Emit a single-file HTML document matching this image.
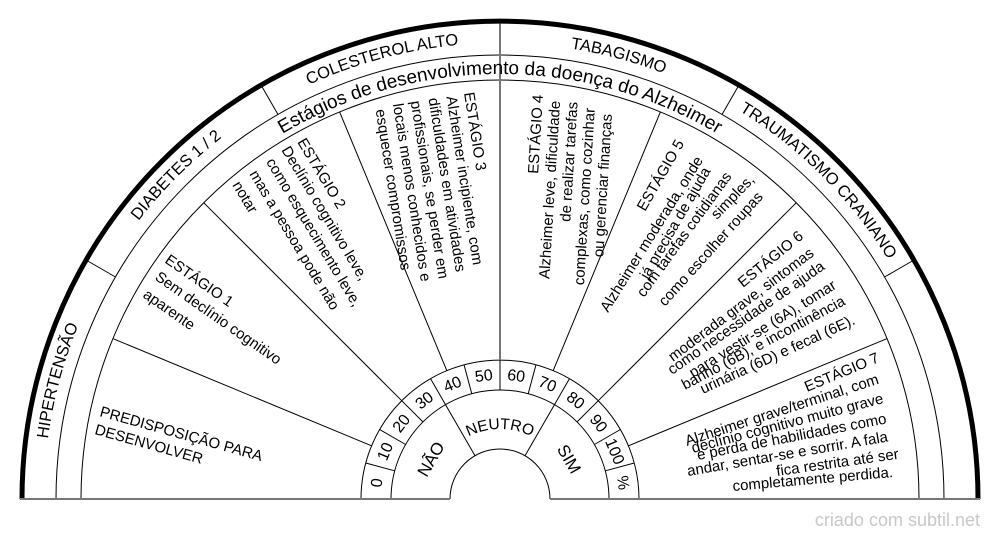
<!DOCTYPE html>
<html><head><meta charset="utf-8"><style>
html,body{margin:0;padding:0;background:#fff;}
svg{display:block;}
text{font-family:"Liberation Sans",Arial,sans-serif;fill:#000;}
</style></head><body>
<svg width="1000" height="540" viewBox="0 0 1000 540" xmlns="http://www.w3.org/2000/svg">
<defs>
<path id="a456" d="M44,499 A456,456 0 0 1 956,499"/>
<path id="a425" d="M75,499 A425,425 0 0 1 925,499"/>
<path id="a70" d="M430,499 A70,70 0 0 1 570,499"/>
</defs>
<g fill="none" stroke="#000" stroke-width="1">
<path d="M56,499 A444,444 0 0 1 944,499"/>
<path d="M81,499 A419,419 0 0 1 919,499"/>
<path d="M361,499 A139,139 0 0 1 639,499"/>
<path d="M391,499 A109,109 0 0 1 609,499"/>
<path d="M450,499 A50,50 0 0 1 550,499"/>
<line x1="115.5" y1="277" x2="86" y2="260"/>
<line x1="278" y1="114.5" x2="261" y2="85"/>
<line x1="722" y1="114.5" x2="739" y2="85"/>
<line x1="884.5" y1="277" x2="914" y2="260"/>
<line x1="371.6" y1="445.8" x2="112.9" y2="338.6"/>
<line x1="401.7" y1="400.7" x2="203.7" y2="202.7"/>
<line x1="446.8" y1="370.6" x2="339.6" y2="111.9"/>
<line x1="553.2" y1="370.6" x2="660.4" y2="111.9"/>
<line x1="598.3" y1="400.7" x2="796.3" y2="202.7"/>
<line x1="628.4" y1="445.8" x2="887.1" y2="338.6"/>
<line x1="394.7" y1="470.8" x2="365.7" y2="463"/>
<line x1="405.6" y1="444.5" x2="379.6" y2="429.5"/>
<line x1="422.9" y1="421.9" x2="401.7" y2="400.7"/>
<line x1="445.5" y1="404.6" x2="430.5" y2="378.6"/>
<line x1="471.8" y1="393.7" x2="464" y2="364.7"/>
<line x1="500" y1="390" x2="500" y2="360"/>
<line x1="528.2" y1="393.7" x2="536" y2="364.7"/>
<line x1="554.5" y1="404.6" x2="569.5" y2="378.6"/>
<line x1="577.1" y1="421.9" x2="598.3" y2="400.7"/>
<line x1="594.4" y1="444.5" x2="620.4" y2="429.5"/>
<line x1="605.3" y1="470.8" x2="634.3" y2="463"/>
<line x1="475" y1="455.7" x2="445.5" y2="404.6"/>
<line x1="525" y1="455.7" x2="554.5" y2="404.6"/>
</g>
<line x1="500" y1="360" x2="500" y2="21" stroke="#777" stroke-width="2"/>
<path d="M22,499 A478,478 0 0 1 978,499" fill="none" stroke="#000" stroke-width="5"/>
<line x1="20" y1="499" x2="450" y2="499" stroke="#777" stroke-width="2"/>
<line x1="550" y1="499" x2="980" y2="499" stroke="#777" stroke-width="2"/>

<g font-size="16.5">
<text><textPath href="#a456" startOffset="8.33%" text-anchor="middle">HIPERTENSÃO</textPath></text>
<text><textPath href="#a456" startOffset="25%" text-anchor="middle">DIABETES 1 / 2</textPath></text>
<text><textPath href="#a456" startOffset="41.67%" text-anchor="middle">COLESTEROL ALTO</textPath></text>
<text><textPath href="#a456" startOffset="58.33%" text-anchor="middle">TABAGISMO</textPath></text>
<text><textPath href="#a456" startOffset="75%" text-anchor="middle">TRAUMATISMO CRANIANO</textPath></text>
</g>
<text font-size="19"><textPath href="#a425" startOffset="50%" text-anchor="middle">Estágios de desenvolvimento da doença do Alzheimer</textPath></text>

<g font-size="16" text-anchor="middle">
<text x="500" y="380" transform="rotate(-82.5 500 499)">0</text>
<text x="500" y="380" transform="rotate(-67.5 500 499)">10</text>
<text x="500" y="380" transform="rotate(-52.5 500 499)">20</text>
<text x="500" y="380" transform="rotate(-37.5 500 499)">30</text>
<text x="500" y="380" transform="rotate(-22.5 500 499)">40</text>
<text x="500" y="380" transform="rotate(-7.5 500 499)">50</text>
<text x="500" y="380" transform="rotate(7.5 500 499)">60</text>
<text x="500" y="380" transform="rotate(22.5 500 499)">70</text>
<text x="500" y="380" transform="rotate(37.5 500 499)">80</text>
<text x="500" y="380" transform="rotate(52.5 500 499)">90</text>
<text x="500" y="380" transform="rotate(67.5 500 499)">100</text>
<text x="500" y="380" transform="rotate(82.5 500 499)">%</text>
</g>
<g font-size="17" text-anchor="middle">
<text x="500" y="425" transform="rotate(-60 500 499)">NÃO</text>
<text x="500" y="425" transform="rotate(60 500 499)">SIM</text>
</g>
<text font-size="15.5"><textPath href="#a70" startOffset="50%" text-anchor="middle">NEUTRO</textPath></text>

<g font-size="15">
<g transform="translate(99,416) rotate(15.6)">
<text x="0" y="0">PREDISPOSIÇÃO PARA</text>
<text x="0" y="18.6">DESENVOLVER</text>
</g>
<g transform="translate(164,262) rotate(35)">
<text x="0" y="0">ESTÁGIO 1</text>
<text x="1.6" y="19.6">Sem declínio cognitivo</text>
<text x="2" y="41">aparente</text>
</g>
<g transform="translate(297,142) rotate(59)">
<text x="0" y="0">ESTÁGIO 2</text>
<text x="-1.3" y="17.8">Declínio cognitivo leve,</text>
<text x="1" y="37">como esquecimento leve,</text>
<text x="2.7" y="57.6">mas a pessoa pode não</text>
<text x="3.4" y="77.8">notar</text>
</g>
<g transform="translate(464,93) rotate(81)">
<text x="0" y="0">ESTÁGIO 3</text>
<text x="1" y="18">Alzheimer incipiente, com</text>
<text x="0" y="36">dificuldades em atividades</text>
<text x="0" y="54">profissionais, se perder em</text>
<text x="0" y="72">locais menos conhecidos e</text>
<text x="3" y="90">esquecer compromissos</text>
</g>
<g transform="translate(543,95) rotate(-86.5)" text-anchor="end">
<text x="0" y="0">ESTÁGIO 4</text>
<text x="-5" y="17.5">Alzheimer leve, dificuldade</text>
<text x="-5" y="35">de realizar tarefas</text>
<text x="-10" y="52.5">complexas, como cozinhar</text>
<text x="-15" y="70">ou gerenciar  finanças</text>
</g>

<text transform="translate(645,212) rotate(-60)">ESTÁGIO 5</text>
<text transform="translate(608,313) rotate(-58)">Alzheimer moderada, onde</text>
<text transform="translate(648,280) rotate(-60)">já precisa de ajuda</text>
<text transform="translate(644,298) rotate(-54)">com tarefas cotidianas</text>
<text transform="translate(717,220) rotate(-46)">simples,</text>
<text transform="translate(665,307) rotate(-48)">como escolher roupas</text>

<text transform="translate(743,288) rotate(-39.4)">ESTÁGIO 6</text>
<text transform="translate(673,362) rotate(-37)">moderada grave, sintomas</text>
<text transform="translate(672,375) rotate(-34.7)">como necessidade de ajuda</text>
<text transform="translate(693,378) rotate(-32)">para vestir-se (6A), tomar</text>
<text transform="translate(685,390) rotate(-28)">banho (6B), e incontinência</text>
<text transform="translate(703,394) rotate(-24.7)">urinária (6D) e fecal (6E).</text>

<text transform="translate(807,392) rotate(-22.6)">ESTÁGIO 7</text>
<text transform="translate(687,446) rotate(-18)">Alzheimer grave/terminal, com</text>
<text transform="translate(693,453) rotate(-14.7)">declínio cognitivo muito grave</text>
<text transform="translate(698,460) rotate(-11)">e perda de habilidades como</text>
<text transform="translate(688,476) rotate(-9.8)">andar, sentar-se e sorrir. A fala</text>
<text transform="translate(777,476) rotate(-8.1)">fica restrita até ser</text>
<text transform="translate(733,491) rotate(-5)">completamente perdida.</text>
</g>
<text x="980" y="526" font-size="18" fill="#c8c8c8" style="fill:#c8c8c8" text-anchor="end">criado com subtil.net</text>
</svg>
</body></html>
